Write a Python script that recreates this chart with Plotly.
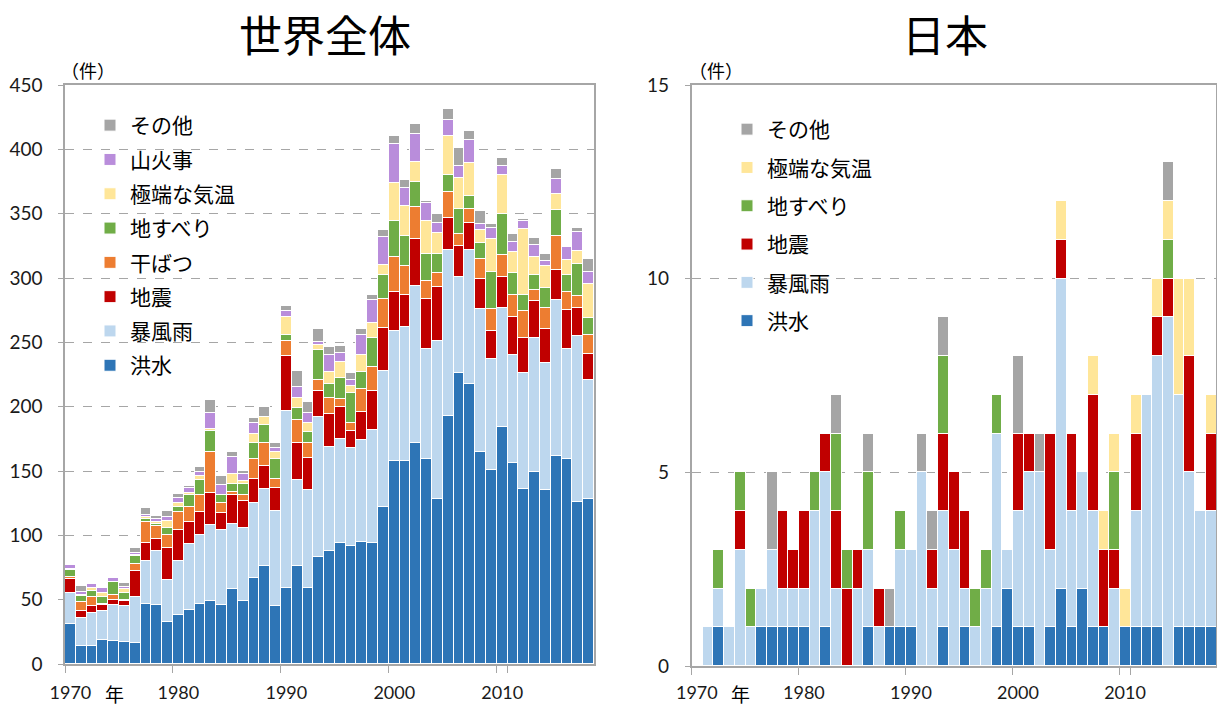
import plotly.graph_objects as go

years = [str(y) for y in range(1970, 2019)]
tick_years = ["1970", "1980", "1990", "2000", "2010"]

# ---- World (世界全体) ----
w_flood = [31, 14, 14, 19, 18, 17, 16, 47, 46, 33, 38, 42, 47, 49, 46, 58, 49, 67, 76, 45,
           59, 76, 59, 83, 88, 94, 92, 95, 94, 122, 158, 158, 172, 159, 128, 193, 226, 218, 165, 151,
           184, 156, 136, 149, 135, 162, 159, 126, 128]
w_storm = [24, 22, 26, 22, 28, 28, 36, 33, 42, 32, 42, 51, 53, 59, 58, 51, 57, 58, 60, 74,
           138, 67, 76, 109, 81, 81, 76, 79, 88, 106, 101, 104, 122, 86, 123, 129, 75, 104, 111, 86,
           93, 84, 90, 104, 99, 121, 86, 129, 93]
w_quake = [11, 5, 5, 5, 4, 4, 20, 14, 9, 25, 24, 17, 18, 25, 13, 22, 21, 19, 18, 18,
           42, 29, 25, 20, 25, 25, 13, 22, 30, 33, 30, 25, 36, 39, 42, 25, 24, 21, 23, 22,
           24, 30, 27, 29, 26, 23, 30, 22, 20]
w_drought = [2, 7, 7, 1, 4, 1, 6, 16, 10, 10, 14, 12, 13, 32, 8, 3, 4, 15, 18, 7,
             12, 18, 12, 9, 13, 6, 6, 18, 19, 23, 27, 22, 25, 14, 11, 20, 9, 11, 16, 17,
             17, 17, 21, 9, 17, 27, 14, 9, 15]
w_landslide = [5, 5, 5, 5, 10, 5, 6, 3, 2, 6, 4, 9, 12, 16, 6, 6, 9, 13, 14, 15,
               5, 9, 8, 23, 11, 16, 24, 13, 22, 18, 28, 24, 20, 21, 15, 13, 20, 10, 12, 29,
               32, 17, 13, 11, 15, 20, 13, 25, 13]
w_temp = [1, 1, 2, 3, 0, 3, 1, 1, 1, 5, 3, 2, 3, 2, 0, 8, 2, 7, 6, 6,
          14, 8, 7, 4, 9, 13, 5, 13, 12, 8, 30, 23, 15, 25, 16, 30, 24, 25, 10, 25,
          30, 16, 51, 14, 17, 12, 12, 10, 26]
w_fire = [3, 2, 3, 4, 3, 2, 1, 2, 3, 3, 4, 4, 3, 12, 8, 13, 6, 8, 0, 3,
          4, 8, 8, 2, 13, 7, 5, 16, 18, 22, 30, 14, 22, 14, 8, 13, 9, 18, 5, 9,
          7, 8, 6, 10, 4, 12, 10, 15, 10]
w_other = [0, 5, 0, 1, 0, 3, 4, 5, 2, 5, 3, 1, 4, 10, 7, 4, 2, 4, 8, 4,
           4, 13, 9, 10, 6, 5, 5, 4, 4, 5, 6, 6, 8, 2, 7, 8, 14, 7, 10, 3,
           6, 6, 2, 5, 6, 8, 0, 3, 10]

# ---- Japan (日本) ----
j_flood = [0, 0, 1, 0, 0, 0, 1, 1, 1, 1, 1, 0, 1, 0, 0, 0, 1, 0, 1, 1,
           1, 0, 0, 1, 0, 1, 0, 0, 1, 2, 1, 1, 0, 1, 2, 1, 2, 1, 1, 0,
           1, 1, 1, 1, 0, 1, 1, 1, 1]
j_storm = [0, 1, 1, 1, 3, 1, 1, 2, 1, 1, 1, 4, 4, 2, 0, 2, 2, 1, 0, 2,
           2, 5, 2, 3, 3, 1, 1, 2, 5, 1, 3, 4, 5, 2, 8, 3, 3, 3, 0, 2,
           0, 3, 6, 7, 9, 6, 4, 3, 3]
j_quake = [0, 0, 0, 0, 1, 0, 0, 0, 2, 1, 2, 0, 1, 2, 2, 1, 0, 1, 0, 0,
           0, 0, 1, 2, 2, 2, 0, 0, 0, 0, 2, 1, 0, 3, 1, 2, 0, 3, 2, 1,
           0, 2, 0, 1, 1, 0, 3, 0, 2]
j_landslide = [0, 0, 1, 0, 1, 1, 0, 0, 0, 0, 0, 1, 0, 2, 1, 0, 2, 0, 0, 1,
               0, 0, 0, 2, 0, 0, 1, 1, 1, 0, 0, 0, 0, 0, 0, 0, 0, 0, 0, 2,
               0, 0, 0, 0, 1, 0, 0, 0, 0]
j_temp = [0, 0, 0, 0, 0, 0, 0, 0, 0, 0, 0, 0, 0, 0, 0, 0, 0, 0, 0, 0,
          0, 0, 0, 0, 0, 0, 0, 0, 0, 0, 0, 0, 0, 0, 1, 0, 0, 1, 1, 1,
          1, 1, 0, 1, 1, 3, 2, 0, 1]
j_other = [0, 0, 0, 0, 0, 0, 0, 2, 0, 0, 0, 0, 0, 1, 0, 0, 1, 0, 1, 0,
           0, 1, 1, 1, 0, 0, 0, 0, 0, 0, 2, 0, 1, 0, 0, 0, 0, 0, 0, 0,
           0, 0, 0, 0, 1, 0, 0, 0, 0]

C_FLOOD, C_STORM, C_QUAKE, C_DROUGHT = "#2E75B6", "#BDD7EE", "#C00000", "#ED7D31"
C_LAND, C_TEMP, C_FIRE, C_OTHER = "#70AD47", "#FFE699", "#B98DDB", "#A5A5A5"

world = [("洪水", w_flood, C_FLOOD), ("暴風雨", w_storm, C_STORM), ("地震", w_quake, C_QUAKE),
         ("干ばつ", w_drought, C_DROUGHT), ("地すべり", w_landslide, C_LAND),
         ("極端な気温", w_temp, C_TEMP), ("山火事", w_fire, C_FIRE), ("その他", w_other, C_OTHER)]
japan = [("洪水", j_flood, C_FLOOD), ("暴風雨", j_storm, C_STORM), ("地震", j_quake, C_QUAKE),
         ("地すべり", j_landslide, C_LAND), ("極端な気温", j_temp, C_TEMP), ("その他", j_other, C_OTHER)]

W, H = 1217, 706
JP = "Noto Sans CJK JP"
NUM = "Lato, Noto Sans CJK JP"

fig = go.Figure()
for i, (name, vals, col) in enumerate(world):
    fig.add_trace(go.Bar(x=years, y=[v if v else None for v in vals], name=name,
                         marker=dict(color=col, line=dict(color="white", width=1)),
                         xaxis="x", yaxis="y", legend="legend", legendgroup="w" + name,
                         legendrank=100 - i))
for i, (name, vals, col) in enumerate(japan):
    fig.add_trace(go.Bar(x=years, y=[v if v else None for v in vals], name=name,
                         marker=dict(color=col, line=dict(color="white", width=1)),
                         xaxis="x2", yaxis="y2", legend="legend2", legendgroup="j" + name,
                         legendrank=100 - i))

axis_common = dict(showline=True, linecolor="#A6A6A6", linewidth=1.5, mirror=True,
                   layer="below traces", tickcolor="#A6A6A6", ticks="outside",
                   tickfont=dict(family=NUM, size=19, color="#1a1a1a"), automargin=False)
xcommon = dict(axis_common, type="category", categoryorder="array", categoryarray=years,
               tickmode="array", tickvals=tick_years, tickson="boundaries", ticklen=7,
               tickangle=0, showgrid=False, range=[-0.5, 48.5],
               tickfont=dict(family=NUM, size=18, color="#1a1a1a"))
ycommon = dict(axis_common, ticklen=5, showgrid=True, gridcolor="#A6A6A6", griddash="dash",
               gridwidth=1, zeroline=False, ticklabelstandoff=12)

fig.update_layout(
    width=W, height=H, margin=dict(l=0, r=0, t=0, b=0, autoexpand=False),
    paper_bgcolor="white", plot_bgcolor="white",
    barmode="stack", bargap=0,
    font=dict(family=NUM, size=19, color="#1a1a1a"),
    xaxis=dict(xcommon, domain=[65 / W, 594 / W], anchor="y", ticklabelstandoff=12),
    yaxis=dict(ycommon, domain=[42 / H, 621 / H], range=[0, 450], dtick=50, anchor="x"),
    xaxis2=dict(xcommon, domain=[691.5 / W, 1216 / W], anchor="y2", ticklabelstandoff=10),
    yaxis2=dict(ycommon, domain=[40 / H, 621 / H], range=[0, 15], dtick=5, anchor="x2"),
    legend=dict(x=90 / W, y=1 - 105 / H, xanchor="left", yanchor="top",
                traceorder="grouped", tracegroupgap=4,
                font=dict(family=JP, size=21, color="#000000"), bgcolor="rgba(0,0,0,0)"),
    legend2=dict(x=727 / W, y=1 - 109 / H, xanchor="left", yanchor="top",
                 traceorder="grouped", tracegroupgap=8,
                 font=dict(family=JP, size=21, color="#000000"), bgcolor="rgba(0,0,0,0)"),
    showlegend=True,
)

ann = [
    dict(text="世界全体", x=325 / W, y=1 - 33 / H, size=43),
    dict(text="日本", x=945 / W, y=1 - 33 / H, size=43),
    dict(text="（件）", x=88 / W, y=1 - 70 / H, size=18),
    dict(text="（件）", x=716 / W, y=1 - 70 / H, size=18),
    dict(text="年", x=114 / W, y=1 - 693 / H, size=19),
    dict(text="年", x=740 / W, y=1 - 693 / H, size=19),
]
for a in ann:
    fig.add_annotation(text=a["text"], x=a["x"], y=a["y"], xref="paper", yref="paper",
                       xanchor="center", yanchor="middle", showarrow=False,
                       font=dict(family=JP, size=a["size"], color="#000000"))

fig.write_html("out.html", config={"displayModeBar": False},
               post_script="document.body.style.margin='0';")
